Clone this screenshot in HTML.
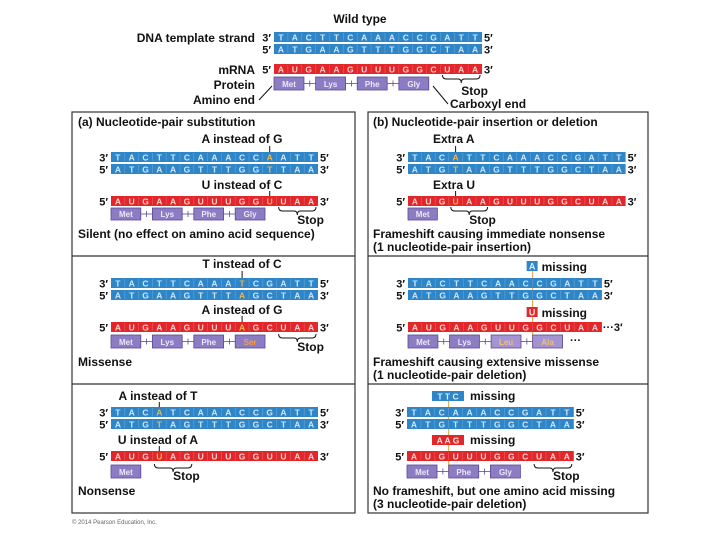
<!DOCTYPE html>
<html><head><meta charset="utf-8"><style>
html,body{margin:0;padding:0;background:#fff;width:720px;height:540px;overflow:hidden}
svg{display:block}
</style></head><body>
<svg id="s" width="720" height="540" xmlns="http://www.w3.org/2000/svg" font-family="Liberation Sans, Arial, sans-serif">
<rect x="72" y="112" width="283" height="401" fill="#fff" stroke="#333" stroke-width="1.2"/>
<rect x="368" y="112" width="280" height="401" fill="#fff" stroke="#333" stroke-width="1.2"/>
<line x1="72" y1="256" x2="355" y2="256" stroke="#333" stroke-width="1.2"/>
<line x1="72" y1="384" x2="355" y2="384" stroke="#333" stroke-width="1.2"/>
<line x1="368" y1="256" x2="648" y2="256" stroke="#333" stroke-width="1.2"/>
<line x1="368" y1="384" x2="648" y2="384" stroke="#333" stroke-width="1.2"/>
<text x="72" y="524" font-size="6" fill="#666">© 2014 Pearson Education, Inc.</text>
<g id="g"></g>
</svg>
<script>
var g=document.getElementById('g'),NS='http://www.w3.org/2000/svg';
function el(t,a,txt){var e=document.createElementNS(NS,t);for(var k in a)e.setAttribute(k,a[k]);if(txt!=null)e.textContent=txt;g.appendChild(e);return e;}
function T(x,y,s,sz,anc,col,w){return el('text',{x:x,y:y,'font-size':sz||11.5,'font-weight':w||'bold','text-anchor':anc||'start',fill:col||'#111'},s);}
var BL='#2e86c8',RD='#e2272b',HL='#f0b44a';
function strand(x,y,seq,w,col,hl,l,r){
  var n=seq.length;el('rect',{x:x,y:y,width:n*w,height:10,fill:col});
  for(var i=0;i<n;i++){
    if(i>0)el('line',{x1:x+i*w,y1:y+1,x2:x+i*w,y2:y+9,stroke:'rgba(255,255,255,0.25)','stroke-width':0.6});
    T(x+i*w+w/2,y+8.5,seq[i],8.5,'middle',(hl&&hl.indexOf(i)>=0)?HL:(col==BL?'#cfe6f7':'#f9d0d0'));
  }
  T(x-3,y+9.5,l,11,'end');T(x+n*w+2,y+9.5,r,11,'start');
}
function prot(x,y,w,names,cols,h,fills){
  h=h||12;var c=3*w;
  for(var i=0;i<names.length;i++){
    var bx=x+i*c, bw=c*0.72;
    el('rect',{x:bx,y:y,width:bw,height:h,fill:(fills&&fills[i])||'#8b7cc4',stroke:'#5a4a98','stroke-width':0.8});
    T(bx+bw/2,y+h-3,names[i],8,'middle',(cols&&cols[i])||'#ece8f8');
    if(i<names.length-1){el('line',{x1:bx+bw,y1:y+h/2,x2:bx+c,y2:y+h/2,stroke:'#5a4a98','stroke-width':0.8});
      el('line',{x1:bx+bw+(c-bw)/2,y1:y+h/2-3,x2:bx+bw+(c-bw)/2,y2:y+h/2+3,stroke:'#5a4a98','stroke-width':0.8});}
  }
}
function brace(x1,x2,y,ty){
  var m=(x1+x2)/2;
  el('path',{d:'M'+x1+' '+y+' q0 4 4 4 L'+(m-3)+' '+(y+4)+' q3 0 3 4 q0 -4 3 -4 L'+(x2-4)+' '+(y+4)+' q4 0 4 -4',fill:'none',stroke:'#111','stroke-width':1});
  T(m,ty,'Stop',12);
}
function vl(x,y1,y2,c){el('line',{x1:x,y1:y1,x2:x,y2:y2,stroke:c||'#e0a030','stroke-width':1});}
var w=13.87,x=274;
T(360,23,'Wild type',12,'middle');
T(255,42,'DNA template strand',12,'end');
strand(x,32,'TACTTCAAACCGATT',w,BL,null,'3′','5′');
strand(x,44,'ATGAAGTTTGGCTAA',w,BL,null,'5′','3′');
T(255,74,'mRNA',12,'end');T(255,89,'Protein',12,'end');
strand(x,64,'AUGAAGUUUGGCUAA',w,RD,null,'5′','3′');
prot(x,77,w,['Met','Lys','Phe','Gly'],null,13);
brace(x+12*w+2,x+15*w-2,75,95);
T(255,104,'Amino end',12,'end');
el('path',{d:'M259 100 L272 86',stroke:'#111',fill:'none','stroke-width':1});
el('path',{d:'M433 86 L448 104',stroke:'#111',fill:'none','stroke-width':1});
T(450,108,'Carboxyl end',12);
w=13.8;x=111;
T(78,126,'(a) Nucleotide-pair substitution',12);
T(242,143,'A instead of G',12,'middle');vl(x+11.5*w,146,152,'#111');
strand(x,152,'TACTTCAAACCAATT',w,BL,[11],'3′','5′');
strand(x,164,'ATGAAGTTTGGTTAA',w,BL,[11],'5′','3′');
T(242,189,'U instead of C',12,'middle');vl(x+11.5*w,191,196,'#111');
strand(x,196,'AUGAAGUUUGGUUAA',w,RD,[11],'5′','3′');
prot(x,208,w,['Met','Lys','Phe','Gly'],null,12);
brace(x+12*w+2,x+15*w-2,207,224);
T(78,238,'Silent (no effect on amino acid sequence)',12);
T(242,268,'T instead of C',12,'middle');vl(x+9.5*w,271,278,'#111');
strand(x,278,'TACTTCAAATCGATT',w,BL,[9],'3′','5′');
strand(x,290,'ATGAAGTTTAGCTAA',w,BL,[9],'5′','3′');
T(242,314,'A instead of G',12,'middle');vl(x+9.5*w,316,322,'#111');
strand(x,322,'AUGAAGUUUAGCUAA',w,RD,[9],'5′','3′');
prot(x,335,w,['Met','Lys','Phe','Ser'],[0,0,0,'#f3a04a'],13);
brace(x+12*w+2,x+15*w-2,334,351);
T(78,366,'Missense',12);
T(158,400,'A instead of T',12,'middle');vl(x+3.5*w,402,407,'#111');
strand(x,407,'TACATCAAACCGATT',w,BL,[3],'3′','5′');
strand(x,419,'ATGTAGTTTGGCTAA',w,BL,[3],'5′','3′');
T(158,444,'U instead of A',12,'middle');vl(x+3.5*w,446,451,'#111');
strand(x,451,'AUGUAGUUUGGUUAA',w,RD,[3],'5′','3′');
prot(x,465,w,['Met'],null,13);
brace(x+3*w+2,x+6*w-2,464,480);
T(78,495,'Nonsense',12);
w=13.6;x=408;
T(373,126,'(b) Nucleotide-pair insertion or deletion',12);
T(433,143,'Extra A',12);vl(x+3.5*w,146,152,'#111');
strand(x,152,'TACATTCAAACCGATT',w,BL,[3],'3′','5′');
strand(x,164,'ATGTAAGTTTGGCTAA',w,BL,[3],'5′','3′');
T(433,189,'Extra U',12);vl(x+3.5*w,191,196,'#111');
strand(x,196,'AUGUAAGUUUGGCUAA',w,RD,[3],'5′','3′');
prot(x,208,w,['Met'],null,12);
brace(x+3*w+2,x+6*w-2,207,224);
T(373,238,'Frameshift causing immediate nonsense',12);
T(373,251,'(1 nucleotide-pair insertion)',12);
w=13.85;x=408;var mx=x+9*w;
el('rect',{x:mx-6,y:261,width:11,height:10,fill:BL});T(mx-0.5,269.5,'A',9,'middle','#dbeefb');T(mx+9,271,'missing',12);
vl(mx,271,348);
strand(x,278,'TACTTCAACCGATT',w,BL,null,'3′','5′');
strand(x,290,'ATGAAGTTGGCTAA',w,BL,null,'5′','3′');
el('rect',{x:mx-6,y:307,width:11,height:10,fill:RD});T(mx-0.5,315.5,'U',9,'middle','#fde0e0');T(mx+9,317,'missing',12);
strand(x,322,'AUGAAGUUGGCUAA',w,RD,null,'5′','');
T(x+14*w+1,331,'···3′',11);
prot(x,335,w,['Met','Lys','Leu','Ala'],[0,0,'#f3c070','#f3c070'],13,[0,0,'#a494d4','#a494d4']);
T(x+11.7*w,344,'···',11);
T(373,366,'Frameshift causing extensive missense',12);
T(373,379,'(1 nucleotide-pair deletion)',12);
w=13.9;x=407;mx=x+3*w;
el('rect',{x:432,y:391,width:32,height:10,fill:BL});T(448,399.5,'T T C',8.5,'middle','#dbeefb');T(470,400,'missing',12);
vl(mx,401,476);
strand(x,407,'TACAAACCGATT',w,BL,null,'3′','5′');
strand(x,419,'ATGTTTGGCTAA',w,BL,null,'5′','3′');
el('rect',{x:432,y:435,width:32,height:10,fill:RD});T(448,443.5,'A A G',8.5,'middle','#fde0e0');T(470,444,'missing',12);
strand(x,451,'AUGUUUGGCUAA',w,RD,null,'5′','3′');
prot(x,465,w,['Met','Phe','Gly'],null,13);
brace(x+9*w+2,x+12*w-2,464,480);
T(373,495,'No frameshift, but one amino acid missing',12);
T(373,508,'(3 nucleotide-pair deletion)',12);
</script>
</body></html>
